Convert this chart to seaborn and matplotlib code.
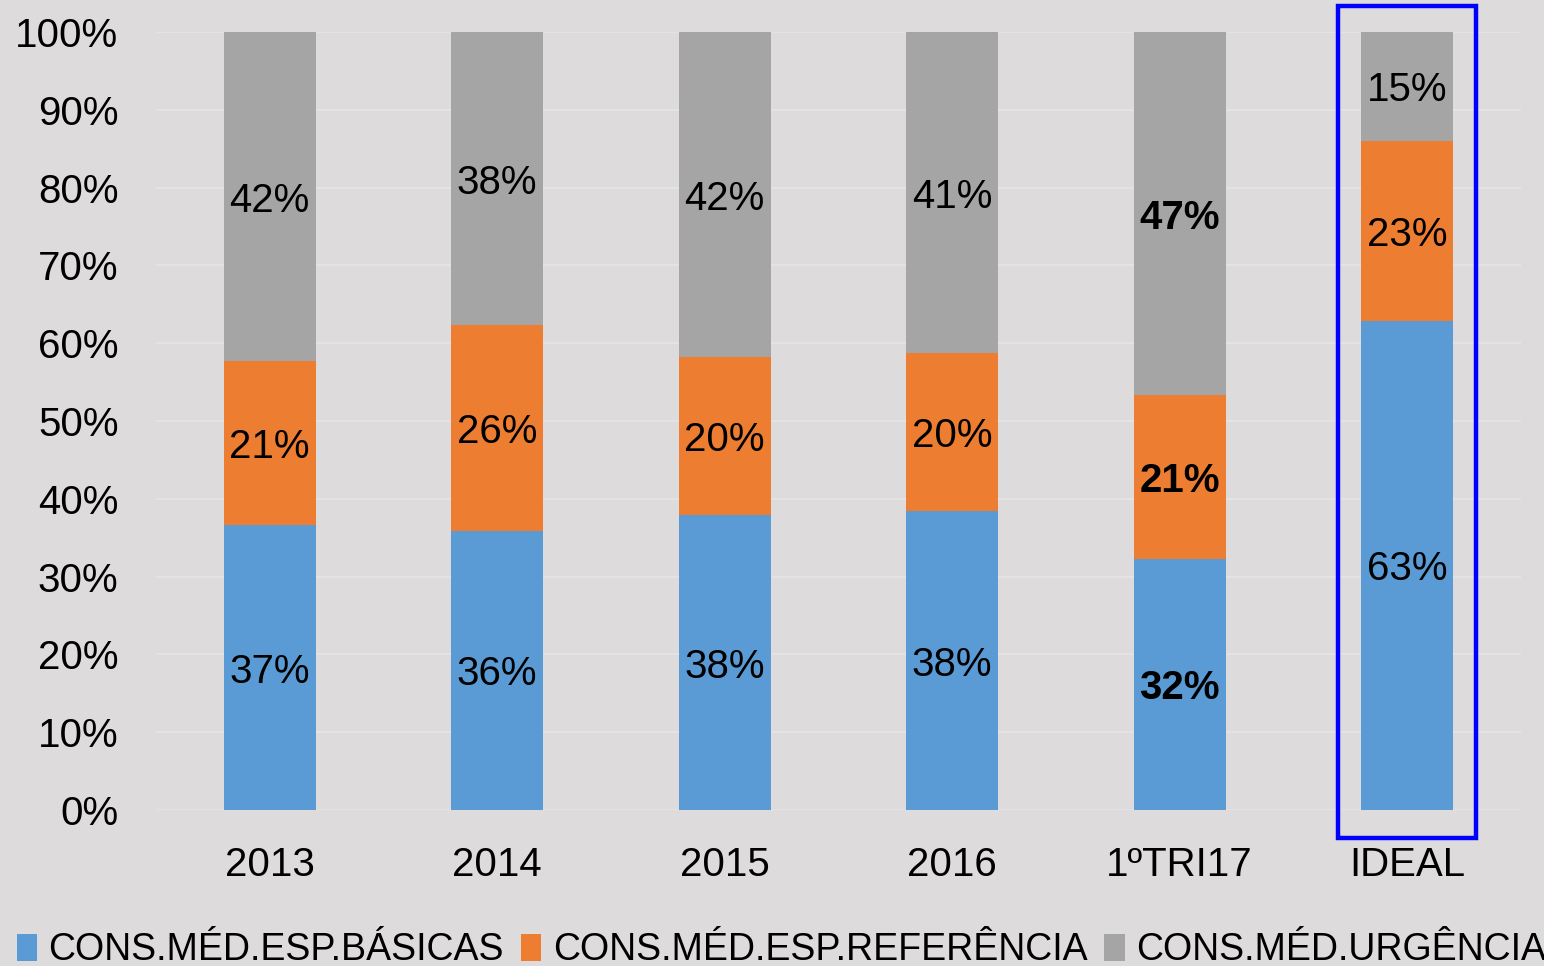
import matplotlib
matplotlib.use("Agg")
import matplotlib.pyplot as plt
import numpy as np
import pandas as pd
import seaborn as sns
from matplotlib.patches import Patch, Rectangle

categories = ["2013", "2014", "2015", "2016", "1ºTRI17", "IDEAL"]
series_names = ["CONS.MÉD.ESP.BÁSICAS", "CONS.MÉD.ESP.REFERÊNCIA", "CONS.MÉD.URGÊNCIA"]
basicas = [36.6, 35.9, 37.9, 38.4, 32.3, 62.9]
referencia = [21.1, 26.4, 20.3, 20.3, 21.0, 23.1]
urgencia = [42.3, 37.7, 41.8, 41.3, 46.7, 14.0]
basicas_labels = ["37%", "36%", "38%", "38%", "32%", "63%"]
referencia_labels = ["21%", "26%", "20%", "20%", "21%", "23%"]
urgencia_labels = ["42%", "38%", "42%", "41%", "47%", "15%"]
bold_category = "1ºTRI17"
colors = ["#5B9BD5", "#ED7D31", "#A5A5A5"]
bg = "#DEDBDC"

sns.set_theme(style="white")
plt.rcParams["font.family"] = ["Liberation Sans", "DejaVu Sans"]

df = pd.DataFrame({
    "cat": categories,
    "b": basicas,
    "r": referencia,
    "u": urgencia,
})
df["top_b"] = df["b"]
df["top_r"] = df["b"] + df["r"]
df["top_u"] = df["b"] + df["r"] + df["u"]

fig = plt.figure(figsize=(15.44, 9.66), dpi=100, facecolor=bg)
ax = fig.add_axes([0.101, 0.1615, 0.884, 0.8054])
ax.set_facecolor(bg)

# stacked bars drawn back-to-front from cumulative totals
for col, color in zip(["top_u", "top_r", "top_b"], colors[::-1]):
    sns.barplot(data=df, x="cat", y=col, color=color, width=0.404,
                saturation=1, linewidth=0, edgecolor="none", ax=ax, zorder=3)

ax.set_xlim(-0.5, 5.5)
ax.set_ylim(0, 100)
ax.set_yticks(np.arange(0, 101, 10))
ax.set_yticklabels([f"{v}%" for v in range(0, 101, 10)])
ax.grid(axis="y", color="#E6E5E5", linewidth=1.2, zorder=0)
ax.set_axisbelow(True)
for s in ax.spines.values():
    s.set_visible(False)
ax.tick_params(axis="y", length=0, pad=27, labelsize=29, labelcolor="black")
ax.tick_params(axis="x", length=0, pad=26, labelsize=29, labelcolor="black")
ax.set_xlabel("")
ax.set_ylabel("")

segs = [
    (df["b"] * 0, df["b"], basicas_labels),
    (df["b"], df["r"], referencia_labels),
    (df["top_r"], df["u"], urgencia_labels),
]
for bottoms, heights, labels in segs:
    for i, (b0, h, lab) in enumerate(zip(bottoms, heights, labels)):
        weight = "bold" if categories[i] == bold_category else "normal"
        ax.text(i, b0 + h / 2, lab, ha="center", va="center_baseline", fontsize=29,
                fontweight=weight, color="black", zorder=5)

# highlight box around the ideal bar
ax.add_patch(Rectangle((4.697, -3.6), 0.605, 106.9, fill=False,
                       edgecolor="#0000FF", linewidth=3.2, clip_on=False, zorder=6))

handles = [Patch(facecolor=c, edgecolor="none") for c in colors]
fig.legend(handles, series_names, loc="lower center", bbox_to_anchor=(0.506, -0.018),
           ncol=3, frameon=False, fontsize=27, labelcolor="black",
           handlelength=0.55, handleheight=0.75,
           handletextpad=0.3, columnspacing=0.45, borderaxespad=0)

fig.savefig("out.png", dpi=100, facecolor=bg)
